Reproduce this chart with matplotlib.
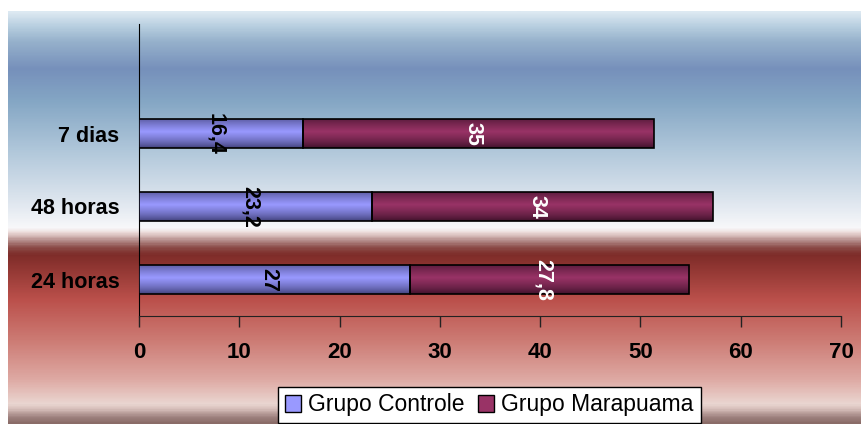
import numpy as np
import matplotlib
matplotlib.use("Agg")
import matplotlib.pyplot as plt
from matplotlib.colors import LinearSegmentedColormap, to_rgb
from matplotlib.patches import Patch

# ------ dados
categorias = ["24 horas", "48 horas", "7 dias"]
grupo_controle = [27, 23.2, 16.4]
grupo_marapuama = [27.8, 34, 35]
series = ["Grupo Controle", "Grupo Marapuama"]
xticks = [0, 10, 20, 30, 40, 50, 60, 70]

plt.rcParams["font.family"] = ["Liberation Sans", "DejaVu Sans"]

W, H = 861, 424
fig = plt.figure(figsize=(W / 100, H / 100), dpi=100)

# ------ fundo em degradê (azul -> branco -> vermelho)
paradas = [
    (11, "#dde9f2"), (25, "#b8cfe0"), (40, "#97b2cc"), (68, "#7690bb"),
    (100, "#84a6c4"), (150, "#b0c7da"), (200, "#dde5ee"), (228, "#f8f8fa"),
    (233, "#ead8d6"), (240, "#b89290"), (248, "#8a4a46"), (255, "#7e2c29"),
    (265, "#8c3430"), (300, "#bb504b"), (340, "#cc7a73"), (380, "#dea9a3"),
    (405, "#ead6d1"), (410, "#d8c0bb"), (418, "#a08380"), (424, "#8a6c68"),
]
topo, base = 11, 424
cmap_fundo = LinearSegmentedColormap.from_list(
    "fundo", [((y - topo) / (base - topo), c) for y, c in paradas])
ax_bg = fig.add_axes([8 / W, 0, (W - 8) / W, (base - topo) / H])
ax_bg.imshow(np.linspace(0, 1, 600).reshape(-1, 1), cmap=cmap_fundo,
             aspect="auto", extent=[0, 1, 0, 1], origin="upper")
ax_bg.set_axis_off()
ax_bg.set_zorder(-10)

# ------ gráfico
ax = fig.add_axes([139 / W, 108 / H, 702 / W, 292 / H])
ax.patch.set_alpha(0)

y = np.arange(len(categorias))
altura = 0.41
cores = ["#9999ff", "#993366"]
escuras = ["#3c3c72", "#3a1028"]

b1 = ax.barh(y, grupo_controle, height=altura, color=cores[0],
             edgecolor="black", linewidth=1.2, zorder=3)
b2 = ax.barh(y, grupo_marapuama, left=grupo_controle, height=altura,
             color=cores[1], edgecolor="black", linewidth=1.2, zorder=3)


def degrade(barras, clara, escura):
    c1, c2 = np.array(to_rgb(escura)), np.array(to_rgb(clara))
    t = np.linspace(0, 1, 100)
    f = np.clip(1 - np.abs(t - 0.45) / 0.55, 0, 1) ** 0.7
    img = (c1[None, :] * (1 - f[:, None]) + c2[None, :] * f[:, None])
    img = img.reshape(-1, 1, 3)
    for p in barras:
        x0, y0, w, h = p.get_x(), p.get_y(), p.get_width(), p.get_height()
        im = ax.imshow(img, aspect="auto", extent=[x0, x0 + w, y0, y0 + h],
                       origin="upper", zorder=3.5, interpolation="bilinear")
        im.set_clip_path(p)
        p.set_facecolor("none")
        p.set_zorder(4)


degrade(b1, cores[0], escuras[0])
degrade(b2, cores[1], escuras[1])


def rotulo(v):
    return str(v).replace(".", ",")


for i in range(len(categorias)):
    ax.annotate(rotulo(grupo_controle[i]), (grupo_controle[i] / 2, y[i]),
                xytext=(-4, 0), textcoords="offset points",
                rotation=270, ha="center", va="center", fontsize=15.5,
                fontweight="bold", color="black", zorder=5)
    ax.annotate(rotulo(grupo_marapuama[i]),
                (grupo_controle[i] + grupo_marapuama[i] / 2, y[i]),
                xytext=(-4, 0), textcoords="offset points",
                rotation=270, ha="center", va="center", fontsize=15.5,
                fontweight="bold", color="white", zorder=5)

ax.set_xlim(0, 70)
ax.set_ylim(-0.5, 3.5)
ax.set_xticks(xticks)
ax.set_xticklabels([str(v) for v in xticks], fontsize=16, fontweight="bold")
ax.set_yticks(y)
ax.set_yticklabels(categorias, fontsize=15.5, fontweight="bold")
ax.tick_params(axis="x", direction="out", length=8, width=1, pad=11,
               color="#222222")
ax.tick_params(axis="y", length=0, pad=14)
for s in ["top", "right"]:
    ax.spines[s].set_visible(False)
ax.spines["left"].set_color("black")
ax.spines["bottom"].set_color("#222222")

# ------ legenda
handles = [Patch(facecolor=cores[0], edgecolor="black"),
           Patch(facecolor=cores[1], edgecolor="black")]
leg = fig.legend(handles, series, loc="center", ncol=2,
                 bbox_to_anchor=(489.5 / W, 19 / H), fontsize=16.5,
                 frameon=True, fancybox=False, edgecolor="black",
                 framealpha=1, borderpad=0.3, handlelength=0.7,
                 handleheight=0.7, handletextpad=0.3, columnspacing=0.6)
leg.get_frame().set_linewidth(1)

fig.savefig("out.png", dpi=100)
